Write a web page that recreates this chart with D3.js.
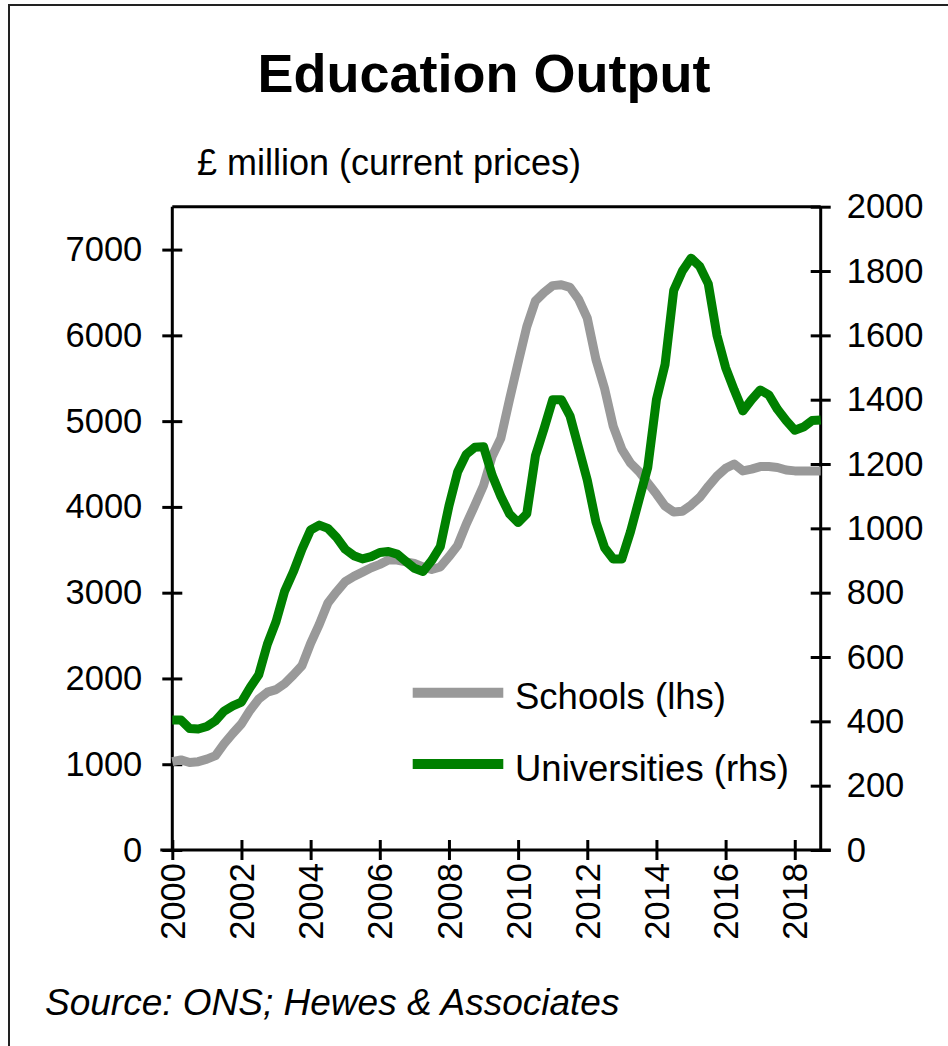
<!DOCTYPE html>
<html>
<head>
<meta charset="utf-8">
<script src="https://cdn.jsdelivr.net/npm/d3@7"></script>
<style>
  body { margin: 0; background: #fff; }
  text { font-family: "Liberation Sans", Arial, sans-serif; fill: #000; }
</style>
</head>
<body>
<div id="chart"></div>
<script>
var svgWidth = 948;
var svgHeight = 1046;

// quarterly, 2000 Q1 .. 2018 Q4
var startYear = 2000;
var schools = [
    1030, 1050, 1020, 1030, 1060, 1100, 1240, 1360, 1470, 1630,
    1760, 1840, 1870, 1940, 2040, 2150, 2410, 2630, 2880, 3010,
    3130, 3190, 3240, 3290, 3330, 3380, 3380, 3360, 3340, 3300,
    3270, 3300, 3420, 3550, 3800, 4020, 4250, 4590, 4800, 5250,
    5680, 6100, 6400, 6500, 6580, 6590, 6560, 6420, 6200, 5720,
    5380, 4940, 4670, 4510, 4410, 4280, 4150, 4010, 3940, 3950,
    4020, 4110, 4240, 4360, 4450, 4500, 4420, 4440, 4470, 4470,
    4460, 4430, 4420, 4420, 4420, 4420
];
var universities = [
    404, 404, 378, 376, 384, 402, 432, 448, 460, 505,
    545, 640, 710, 805, 865, 935, 995, 1010, 1000, 972,
    935, 915, 905, 912, 925, 928, 920, 898, 876, 866,
    900, 943, 1070, 1175, 1230, 1252, 1254, 1165, 1100, 1045,
    1018, 1045, 1225, 1310, 1400, 1400, 1350, 1250, 1150, 1020,
    940, 905, 905, 990, 1090, 1190, 1400, 1510, 1740, 1800,
    1840, 1815, 1760, 1600, 1500, 1430, 1365, 1400, 1430, 1415,
    1370, 1335, 1305, 1315, 1335, 1337
];
var yearTicks = [2000, 2002, 2004, 2006, 2008, 2010, 2012, 2014, 2016, 2018];
var leftTicks = [0, 1000, 2000, 3000, 4000, 5000, 6000, 7000];
var rightTicks = [0, 200, 400, 600, 800, 1000, 1200, 1400, 1600, 1800, 2000];
var seriesNames = ["Schools (lhs)", "Universities (rhs)"];
var seriesColors = ["#999999", "#008000"];

var plot = { left: 172.3, right: 820.7, top: 206.7, bottom: 850 };

var svg = d3.select("#chart")
    .append("svg")
    .attr("width", svgWidth)
    .attr("height", svgHeight);

// outer frame (runs off the right and bottom edges)
svg.append("rect")
    .attr("x", 9).attr("y", 5)
    .attr("width", 980).attr("height", 1080)
    .attr("fill", "none")
    .attr("stroke", "#222")
    .attr("stroke-width", 2);

svg.append("text")
    .attr("x", 484).attr("y", 92)
    .attr("text-anchor", "middle")
    .style("font-size", "54px")
    .style("font-weight", "bold")
    .text("Education Output");

svg.append("text")
    .attr("x", 197).attr("y", 175)
    .style("font-size", "36px")
    .text("£ million (current prices)");

var xScale = d3.scaleLinear()
    .domain([startYear, startYear + (schools.length - 1) / 4])
    .range([plot.left, plot.right]);
var yLeft = d3.scaleLinear().domain([0, 7500]).range([plot.bottom, plot.top]);
var yRight = d3.scaleLinear().domain([0, 2000]).range([plot.bottom, plot.top]);

// plot border (top edge)
svg.append("line")
    .attr("x1", plot.left).attr("x2", plot.right)
    .attr("y1", plot.top).attr("y2", plot.top)
    .attr("stroke", "#000").attr("stroke-width", 3);

var leftAxis = svg.append("g")
    .attr("transform", `translate(${plot.left},0)`)
    .call(d3.axisLeft(yLeft).tickValues(leftTicks).tickFormat(d3.format("d"))
        .tickSize(10).tickSizeOuter(0).tickPadding(20));
var rightAxis = svg.append("g")
    .attr("transform", `translate(${plot.right},0)`)
    .call(d3.axisRight(yRight).tickValues(rightTicks).tickFormat(d3.format("d"))
        .tickSize(10).tickSizeOuter(0).tickPadding(16));
var bottomAxis = svg.append("g")
    .attr("transform", `translate(0,${plot.bottom})`)
    .call(d3.axisBottom(xScale).tickValues(yearTicks).tickFormat(d3.format("d"))
        .tickSize(10).tickSizeOuter(0));

[leftAxis, rightAxis, bottomAxis].forEach(function (ax) {
    ax.select(".domain").attr("stroke", "#000").attr("stroke-width", 3);
    ax.selectAll(".tick line").attr("stroke", "#000").attr("stroke-width", 3);
    ax.selectAll("text").style("font-size", "34.5px").attr("fill", "#000")
        .style("font-family", "'Liberation Sans', Arial, sans-serif");
});
// ticks cross the axis lines
leftAxis.selectAll(".tick line").attr("x1", 10).attr("x2", -10);
rightAxis.selectAll(".tick line").attr("x1", -10).attr("x2", 10);
bottomAxis.selectAll(".tick line").attr("y1", -10).attr("y2", 10);
leftAxis.select(".domain").attr("d", `M0,${plot.bottom}V${plot.top}`);
rightAxis.select(".domain").attr("d", `M0,${plot.bottom}V${plot.top}`);
bottomAxis.select(".domain").attr("d", `M${plot.left - 12},0H${plot.right + 10}`);

bottomAxis.selectAll(".tick text")
    .attr("transform", "rotate(-90)")
    .attr("text-anchor", "end")
    .attr("x", -13)
    .attr("y", 0)
    .attr("dy", "0.35em");

var lineL = d3.line()
    .x((d, i) => xScale(startYear + i / 4))
    .y(d => yLeft(d));
var lineR = d3.line()
    .x((d, i) => xScale(startYear + i / 4))
    .y(d => yRight(d));

svg.append("path")
    .datum(schools)
    .attr("d", lineL)
    .attr("fill", "none")
    .attr("stroke", seriesColors[0])
    .attr("stroke-width", 9)
    .attr("stroke-linejoin", "round");

svg.append("path")
    .datum(universities)
    .attr("d", lineR)
    .attr("fill", "none")
    .attr("stroke", seriesColors[1])
    .attr("stroke-width", 9)
    .attr("stroke-linejoin", "round");

// legend
var legend = svg.append("g");
seriesNames.forEach(function (name, i) {
    var ly = 692.7 + i * 71.3;
    legend.append("line")
        .attr("x1", 412.7).attr("x2", 503.3)
        .attr("y1", ly).attr("y2", ly)
        .attr("stroke", seriesColors[i])
        .attr("stroke-width", 10);
    legend.append("text")
        .attr("x", 515).attr("y", ly + 16.5)
        .style("font-size", "36.5px")
        .text(name);
});

svg.append("text")
    .attr("x", 45).attr("y", 1015)
    .style("font-size", "37px")
    .style("font-style", "italic")
    .text("Source: ONS; Hewes & Associates");
</script>
</body>
</html>
